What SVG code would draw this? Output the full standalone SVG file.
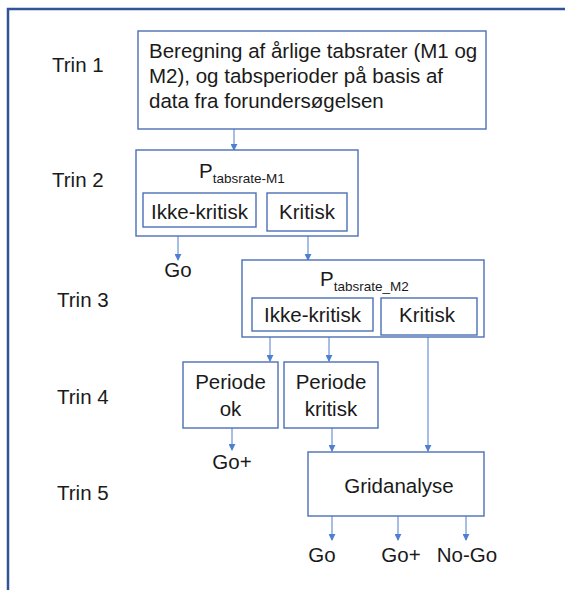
<svg xmlns="http://www.w3.org/2000/svg" width="565" height="590" viewBox="0 0 565 590">
<style>
text{font-family:"Liberation Sans",Arial,sans-serif;font-size:20.5px;fill:#1a1a1a}
.c{text-anchor:middle}
.sub{font-size:13.5px}
.box{fill:#fff;stroke:#4a6fb5;stroke-width:1.4}
.ln{stroke:#4f7fd0;stroke-width:1;fill:none}
.frame{stroke:#2f5597;stroke-width:2.5;fill:none}
</style>
<defs>
<marker id="ah" viewBox="0 0 8 8" refX="7" refY="4" markerWidth="7" markerHeight="7" markerUnits="userSpaceOnUse" orient="auto">
<path d="M0,0 L8,4 L0,8 z" fill="#4f7fd0"/>
</marker>
</defs>
<rect width="565" height="590" fill="#fff"/>
<path class="frame" d="M8,590 V9 H565"/>
<g id="labels">
<text x="52" y="72">Trin 1</text>
<text x="52" y="187">Trin 2</text>
<text x="57" y="307">Trin 3</text>
<text x="57" y="404">Trin 4</text>
<text x="57" y="500">Trin 5</text>
</g>
<g id="connectors">
<line class="ln" x1="234" y1="129" x2="234" y2="150" marker-end="url(#ah)"/>
<line class="ln" x1="178" y1="236" x2="178" y2="260" marker-end="url(#ah)"/>
<line class="ln" x1="308" y1="231" x2="308" y2="260" marker-end="url(#ah)"/>
<line class="ln" x1="270" y1="337" x2="270" y2="361" marker-end="url(#ah)"/>
<line class="ln" x1="329" y1="337" x2="329" y2="361" marker-end="url(#ah)"/>
<line class="ln" x1="428" y1="335" x2="428" y2="451" marker-end="url(#ah)"/>
<line class="ln" x1="232" y1="428" x2="232" y2="450" marker-end="url(#ah)"/>
<line class="ln" x1="332" y1="428" x2="332" y2="451" marker-end="url(#ah)"/>
<line class="ln" x1="332" y1="516" x2="332" y2="540" marker-end="url(#ah)"/>
<line class="ln" x1="398" y1="516" x2="398" y2="540" marker-end="url(#ah)"/>
<line class="ln" x1="466" y1="516" x2="466" y2="540" marker-end="url(#ah)"/>
</g>
<g id="step1">
<rect class="box" x="138" y="31" width="348" height="98"/>
<text x="149" y="58">Beregning af årlige tabsrater (M1 og</text>
<text x="149" y="83">M2), og tabsperioder på basis af</text>
<text x="149" y="108">data fra forundersøgelsen</text>
</g>
<g id="step2">
<rect class="box" x="136" y="150" width="222" height="86"/>
<text x="199" y="178">P<tspan class="sub" dy="5">tabsrate-M1</tspan></text>
</g>
<g id="m1-ikke">
<rect class="box" x="143" y="193" width="113" height="34"/>
<text class="c" x="199.5" y="219">Ikke-kritisk</text>
</g>
<g id="m1-kritisk">
<rect class="box" x="267" y="193" width="80" height="38"/>
<text class="c" x="307" y="219">Kritisk</text>
</g>
<g id="go1"><text class="c" x="178" y="277">Go</text></g>
<g id="step3">
<rect class="box" x="242" y="260" width="242" height="77"/>
<text x="320" y="286">P<tspan class="sub" dy="5">tabsrate_M2</tspan></text>
</g>
<g id="m2-ikke">
<rect class="box" x="252" y="298" width="121" height="33"/>
<text class="c" x="312.5" y="322">Ikke-kritisk</text>
</g>
<g id="m2-kritisk">
<rect class="box" x="381" y="298" width="96" height="37"/>
<text class="c" x="427" y="322">Kritisk</text>
</g>
<g id="periode-ok">
<rect class="box" x="183" y="362" width="95" height="66"/>
<text class="c" x="230.5" y="389">Periode</text>
<text class="c" x="230.5" y="416">ok</text>
</g>
<g id="periode-kritisk">
<rect class="box" x="284" y="362" width="94" height="66"/>
<text class="c" x="331" y="389">Periode</text>
<text class="c" x="331" y="416">kritisk</text>
</g>
<g id="goplus1"><text class="c" x="232" y="469">Go+</text></g>
<g id="gridanalyse">
<rect class="box" x="308" y="452" width="176" height="64"/>
<text class="c" x="399" y="493">Gridanalyse</text>
</g>
<g id="go2"><text class="c" x="322" y="562">Go</text></g>
<g id="goplus2"><text class="c" x="401" y="562">Go+</text></g>
<g id="nogo"><text class="c" x="467" y="562">No-Go</text></g>
</svg>
